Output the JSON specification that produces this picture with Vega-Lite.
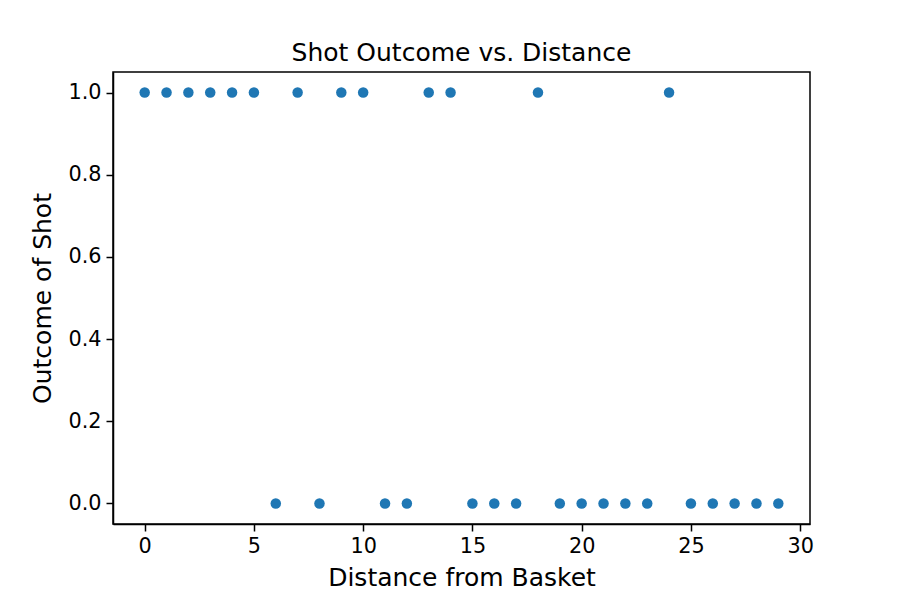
{
  "$schema": "https://vega.github.io/schema/vega-lite/v6.json",
  "width": 697,
  "height": 452,
  "autosize": {"type": "none"},
  "padding": {"left": 113, "top": 72, "right": 90, "bottom": 76},
  "background": "white",
  "title": {"text": "Shot Outcome vs. Distance", "font": "DejaVu Sans", "fontSize": 25, "fontWeight": "normal", "color": "black", "offset": 6},
  "data": {"values": [
    {"d": 0, "o": 1}, {"d": 1, "o": 1}, {"d": 2, "o": 1}, {"d": 3, "o": 1}, {"d": 4, "o": 1},
    {"d": 5, "o": 1}, {"d": 6, "o": 0}, {"d": 7, "o": 1}, {"d": 8, "o": 0}, {"d": 9, "o": 1},
    {"d": 10, "o": 1}, {"d": 11, "o": 0}, {"d": 12, "o": 0}, {"d": 13, "o": 1}, {"d": 14, "o": 1},
    {"d": 15, "o": 0}, {"d": 16, "o": 0}, {"d": 17, "o": 0}, {"d": 18, "o": 1}, {"d": 19, "o": 0},
    {"d": 20, "o": 0}, {"d": 21, "o": 0}, {"d": 22, "o": 0}, {"d": 23, "o": 0}, {"d": 24, "o": 1},
    {"d": 25, "o": 0}, {"d": 26, "o": 0}, {"d": 27, "o": 0}, {"d": 28, "o": 0}, {"d": 29, "o": 0}
  ]},
  "mark": {"type": "circle", "size": 110, "color": "#1f77b4", "opacity": 1},
  "encoding": {
    "x": {"field": "d", "type": "quantitative", "title": "Distance from Basket",
      "scale": {"domain": [-1.45, 30.45], "nice": false, "zero": false},
      "axis": {"values": [0, 5, 10, 15, 20, 25, 30], "grid": false, "format": "d"}},
    "y": {"field": "o", "type": "quantitative", "title": "Outcome of Shot",
      "scale": {"domain": [-0.05, 1.05], "nice": false, "zero": false},
      "axis": {"values": [0, 0.2, 0.4, 0.6, 0.8, 1.0], "grid": false, "format": ".1f"}}
  },
  "config": {
    "view": {"stroke": "black", "strokeWidth": 1.5},
    "axis": {
      "domainColor": "black", "domainWidth": 1.5, "tickColor": "black", "tickSize": 7, "tickWidth": 1.5,
      "labelFont": "DejaVu Sans", "labelFontSize": 20.8, "labelColor": "black", "labelPadding": 5,
      "titleFont": "DejaVu Sans", "titleFontSize": 25, "titleFontWeight": "normal", "titleColor": "black"
    },
    "axisX": {"titlePadding": 10},
    "axisY": {"titlePadding": 12}
  }
}
